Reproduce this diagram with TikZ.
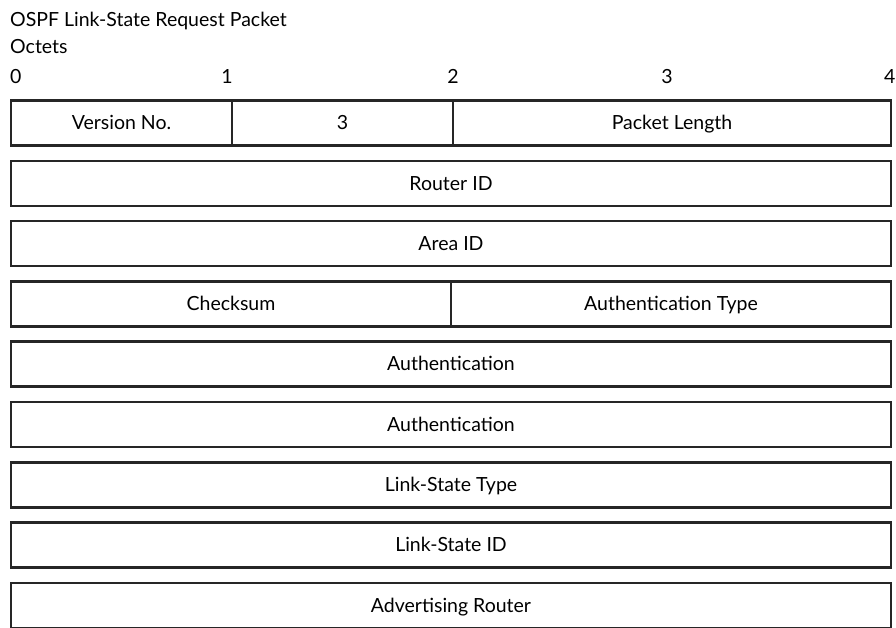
\documentclass[tikz,border=0pt]{standalone}
\usepackage{fontspec}
\setmainfont{Lato}
\begin{document}
\begin{tikzpicture}[x=1pt,y=-1pt,
  field/.style={draw=black!85, line width=2.6pt, inner sep=0pt, minimum height=45pt, text height=13.5pt, text depth=0pt, font=\fontsize{19.5}{23}\selectfont},
  lbl/.style={inner sep=0pt, font=\fontsize{19.5}{23}\selectfont, anchor=base west}]
\useasboundingbox (0,0) rectangle (896,627);
\clip (0,0) rectangle (896,627);
\fill[white] (0,0) rectangle (896,627);
\node[lbl] (title) at (10,26) {OSPF Link-State Request Packet};
\node[lbl] (octets) at (10,53) {Octets};
\node[lbl] (o0) at (10,83) {0};
\node[lbl, anchor=base] (o1) at (227,83) {1};
\node[lbl, anchor=base] (o2) at (453,83) {2};
\node[lbl, anchor=base] (o3) at (667,83) {3};
\node[lbl, anchor=base east] (o4) at (895.5,83) {4};
% row 0
\node[field, minimum width=221pt] (ver) at (121.5,123) {Version No.};
\node[field, minimum width=221pt] (type) at (342.5,123) {3};
\node[field, minimum width=438pt] (len) at (672,123) {Packet Length};
% rows
\node[field, minimum width=880pt] (rid) at (451,183.3) {Router ID};
\node[field, minimum width=880pt] (aid) at (451,243.6) {Area ID};
\node[field, minimum width=440pt] (cks) at (231,303.9) {Checksum};
\node[field, minimum width=440pt] (aut) at (671,303.9) {Authentication Type};
\node[field, minimum width=880pt] (auth1) at (451,364.2) {Authentication};
\node[field, minimum width=880pt] (auth2) at (451,424.5) {Authentication};
\node[field, minimum width=880pt] (lstype) at (451,484.8) {Link-State Type};
\node[field, minimum width=880pt] (lsid) at (451,545.1) {Link-State ID};
\node[field, minimum width=880pt] (adv) at (451,605.4) {Advertising Router};
\end{tikzpicture}
\end{document}
